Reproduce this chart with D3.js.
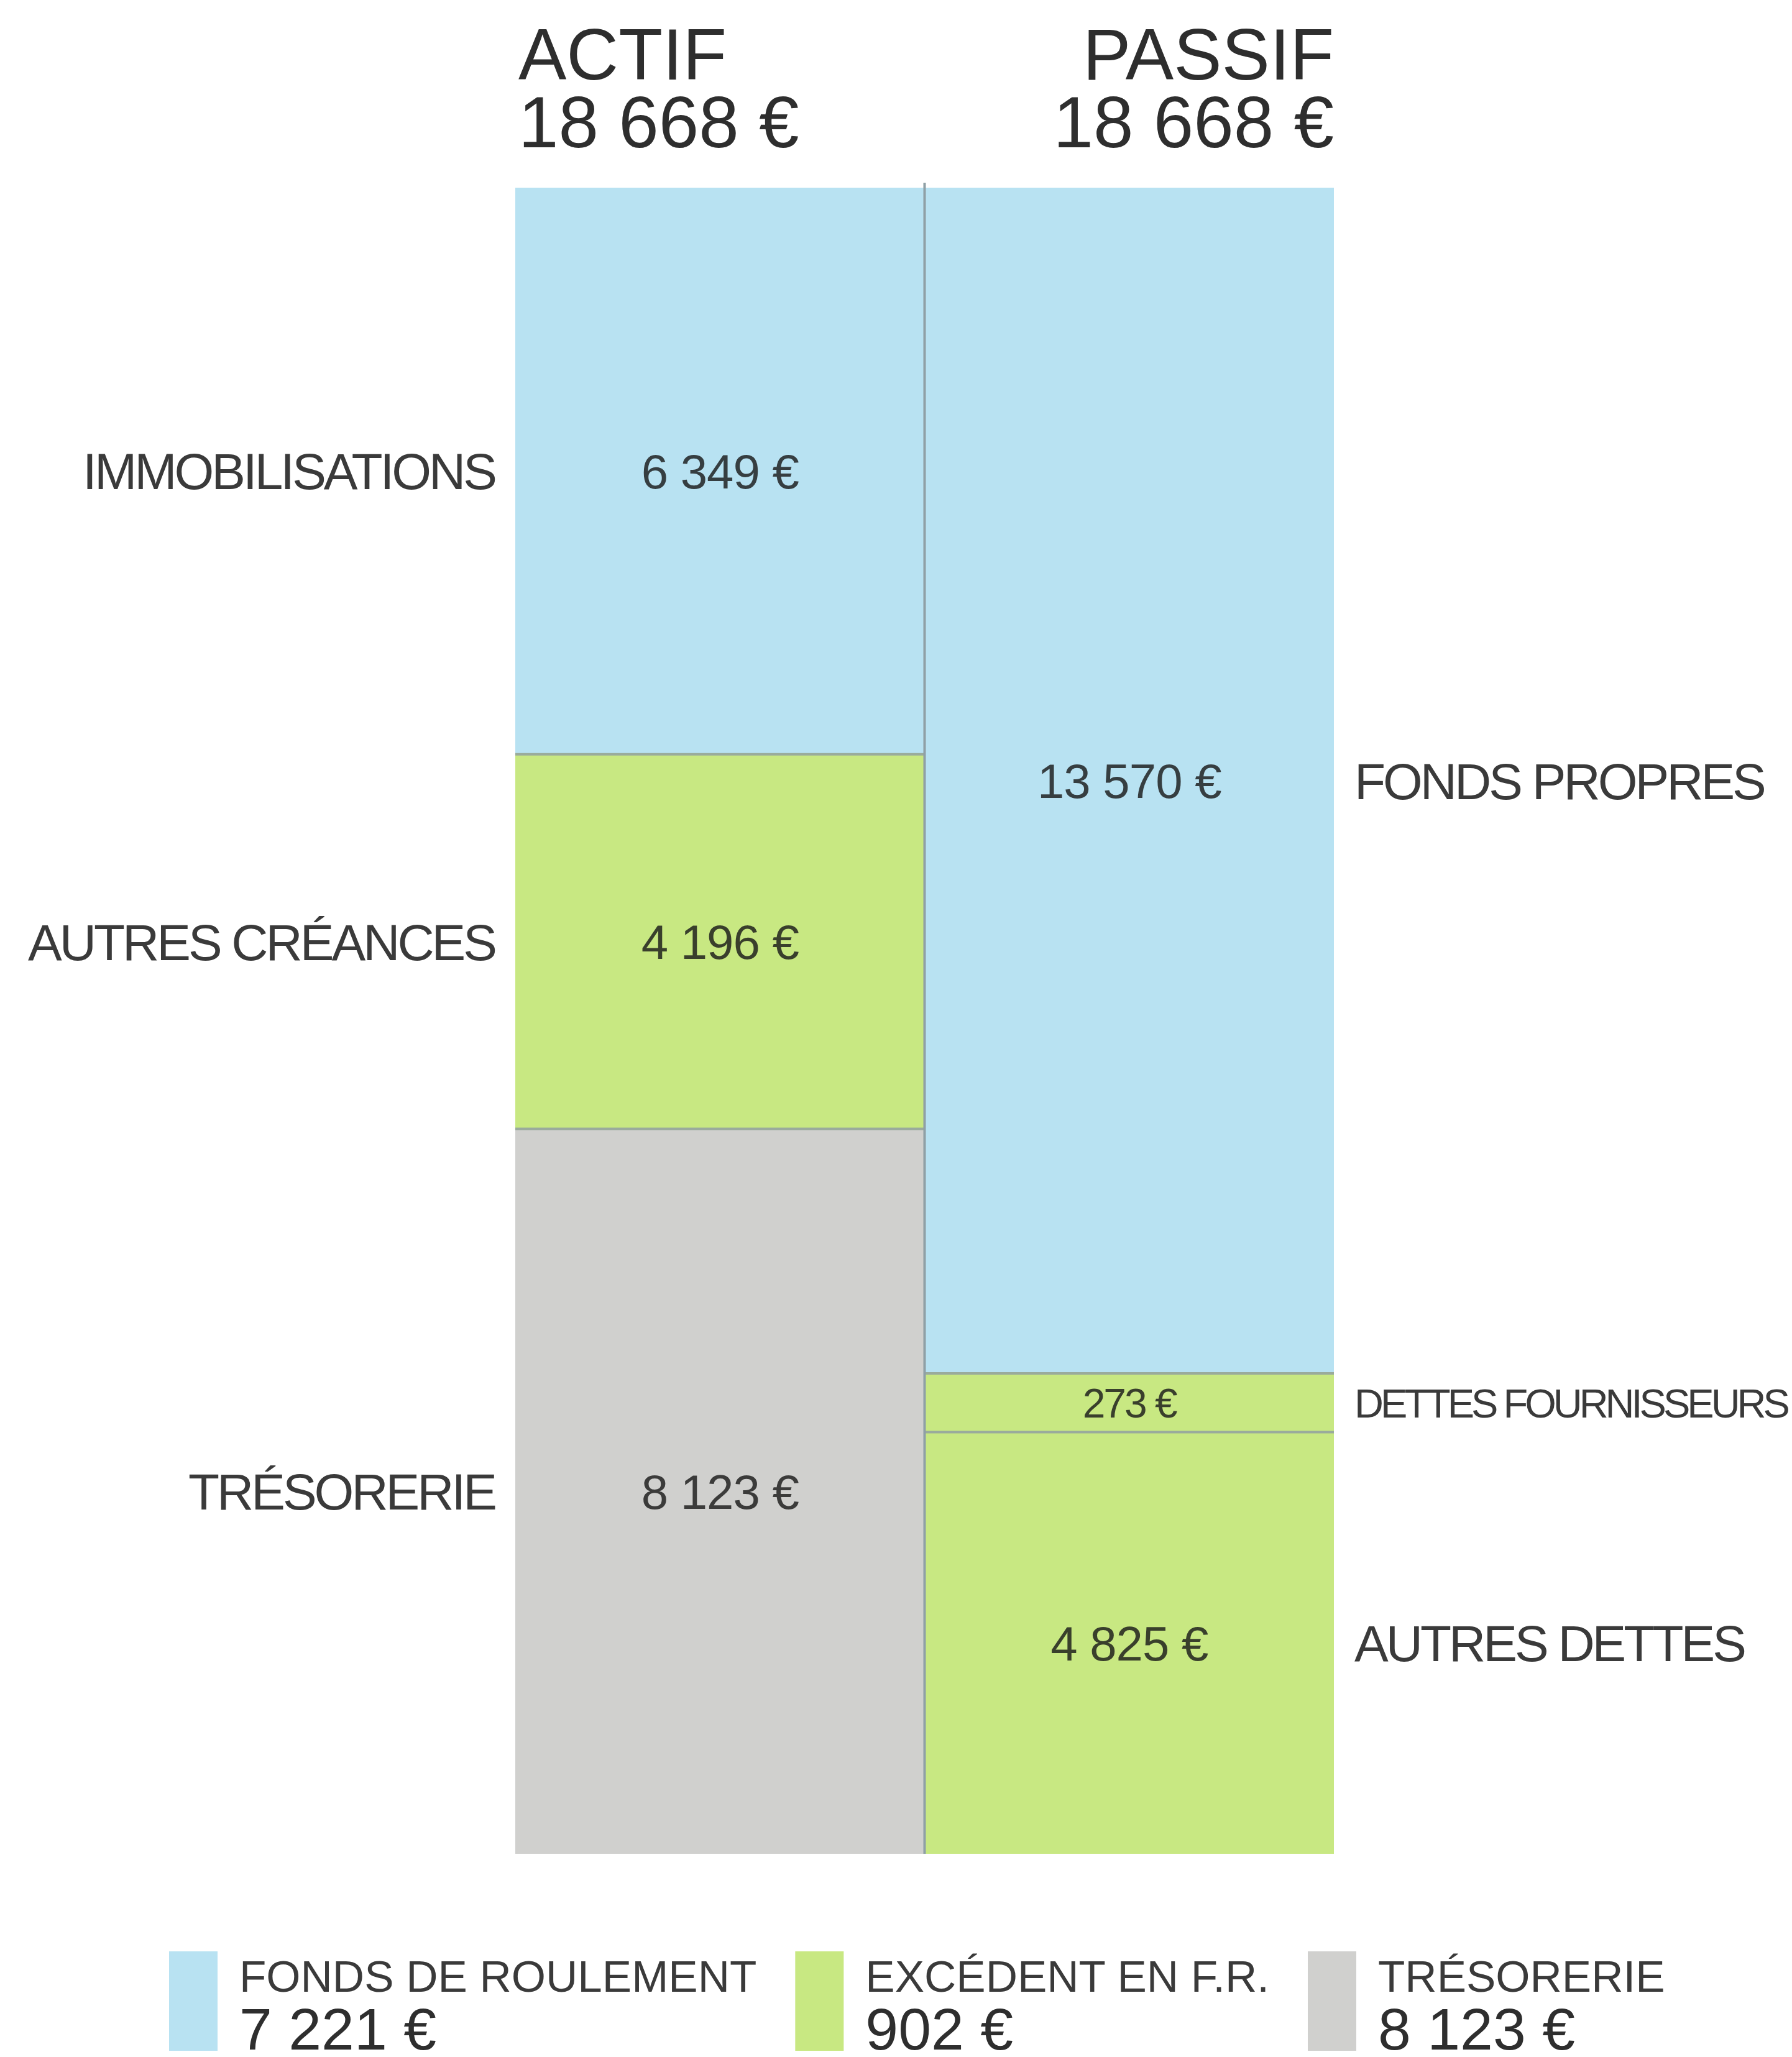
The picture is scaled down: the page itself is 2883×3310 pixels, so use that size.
<!DOCTYPE html>
<html><head><meta charset="utf-8">
<script src="https://cdn.jsdelivr.net/npm/d3@7"></script>
<style>html,body{margin:0;padding:0;background:#fff;}svg{display:block;}</style>
</head><body>
<svg id="chart" width="2883" height="3310"></svg>
<script>
// ---- data ----
const columns = ["ACTIF", "PASSIF"];
const columnTotals = [18668, 18668];
const actifLabels = ["IMMOBILISATIONS", "AUTRES CRÉANCES", "TRÉSORERIE"];
const actifValues = [6349, 4196, 8123];
const actifKinds = ["fr", "exc", "treso"];
const passifLabels = ["FONDS PROPRES", "DETTES FOURNISSEURS", "AUTRES DETTES"];
const passifValues = [13570, 273, 4825];
const passifKinds = ["fr", "exc", "exc"];
const legendKinds = ["fr", "exc", "treso"];
const legendLabels = ["FONDS DE ROULEMENT", "EXCÉDENT EN F.R.", "TRÉSORERIE"];
const legendValues = [7221, 902, 8123];

(function () {
// ---- formatting ----
const loc = d3.formatLocale({decimal: ",", thousands: " ", grouping: [3], currency: ["", " €"]});
const fmt = v => loc.format(",")(v) + " €";

const FONT = "'Liberation Sans', Arial, Helvetica, sans-serif";
const svg = d3.select("#chart");

const color = d3.scaleOrdinal().domain(["fr", "exc", "treso"]).range(["#b8e2f2", "#c8e882", "#d0d0ce"]);

const yTop = 302, yBottom = 2983;
const x = d3.scaleBand().domain(columns).range([829, 2146]).padding(0);

const cols = [
  {name: columns[0], total: columnTotals[0], labels: actifLabels, values: actifValues, kinds: actifKinds, side: "left"},
  {name: columns[1], total: columnTotals[1], labels: passifLabels, values: passifValues, kinds: passifKinds, side: "right"}
];

const minShare = 0.036;
cols.forEach(c => {
  const eff = c.values.map(v => Math.max(v, minShare * c.total));
  const y = d3.scaleLinear().domain([0, d3.sum(eff)]).range([yTop, yBottom]);
  let acc = 0;
  c.segs = c.values.map((v, i) => {
    const s = {value: v, label: c.labels[i], kind: c.kinds[i], y0: y(acc), y1: y(acc + eff[i])};
    acc += eff[i];
    return s;
  });
});

cols.forEach(c => {
  const g = svg.append("g");
  const x0 = x(c.name), w = x.bandwidth();
  g.selectAll("rect").data(c.segs).join("rect")
    .attr("x", x0).attr("width", w)
    .attr("y", d => d.y0).attr("height", d => d.y1 - d.y0)
    .attr("fill", d => color(d.kind));
  g.selectAll("line.sep").data(c.segs.slice(1)).join("line")
    .attr("class", "sep")
    .attr("x1", x0).attr("x2", x0 + w)
    .attr("y1", d => d.y0).attr("y2", d => d.y0)
    .attr("stroke", "#9aab9c").attr("stroke-width", 4);
  g.selectAll("text.val").data(c.segs).join("text")
    .attr("class", "val")
    .attr("x", x0 + w / 2)
    .attr("y", d => (d.y0 + d.y1) / 2)
    .attr("dy", "0.36em")
    .attr("text-anchor", "middle")
    .attr("font-family", FONT)
    .attr("font-size", d => (d.y1 - d.y0) < 150 ? 66 : 78)
    .attr("letter-spacing", d => (d.y1 - d.y0) < 150 ? -3 : -1)
    .attr("fill", "#1a1a1a").attr("fill-opacity", 0.82)
    .text(d => fmt(d.value));
  g.selectAll("text.cat").data(c.segs).join("text")
    .attr("class", "cat")
    .attr("x", c.side === "left" ? x0 - 33 : x0 + w + 33)
    .attr("y", d => (d.y0 + d.y1) / 2)
    .attr("dy", "0.36em")
    .attr("text-anchor", c.side === "left" ? "end" : "start")
    .attr("font-family", FONT)
    .attr("font-size", d => (d.y1 - d.y0) < 150 ? 65 : 82)
    .attr("letter-spacing", d => (d.y1 - d.y0) < 150 ? -5 : -4)
    .attr("fill", "#3a3a3a")
    .text(d => d.label);
  const hx = c.side === "left" ? x0 + 5 : x0 + w;
  const anchor = c.side === "left" ? "start" : "end";
  svg.append("text").attr("x", hx).attr("y", 128).attr("text-anchor", anchor)
    .attr("font-family", FONT).attr("font-size", 116).attr("fill", "#2e2e2e").text(c.name);
  svg.append("text").attr("x", hx).attr("y", 237).attr("text-anchor", anchor)
    .attr("font-family", FONT).attr("font-size", 116).attr("fill", "#2e2e2e").text(fmt(c.total));
});

svg.append("line")
  .attr("x1", x(columns[1])).attr("x2", x(columns[1]))
  .attr("y1", yTop - 8).attr("y2", yBottom)
  .attr("stroke", "#8fa0a6").attr("stroke-width", 4);

let lx = 272;
legendKinds.forEach((k, i) => {
  const g = svg.append("g").attr("transform", `translate(${lx},0)`);
  g.append("rect").attr("x", 0).attr("y", 3140).attr("width", 78).attr("height", 160).attr("fill", color(k));
  const t1 = g.append("text").attr("x", 113).attr("y", 3205)
    .attr("font-family", FONT).attr("font-size", 71).attr("fill", "#3a3a3a").text(legendLabels[i]);
  const t2 = g.append("text").attr("x", 113).attr("y", 3298)
    .attr("font-family", FONT).attr("font-size", 95).attr("fill", "#2e2e2e").text(fmt(legendValues[i]));
  const tw = Math.max(t1.node().getComputedTextLength(), t2.node().getComputedTextLength());
  lx += 113 + tw + 62;
});
})();
</script>
</body></html>
